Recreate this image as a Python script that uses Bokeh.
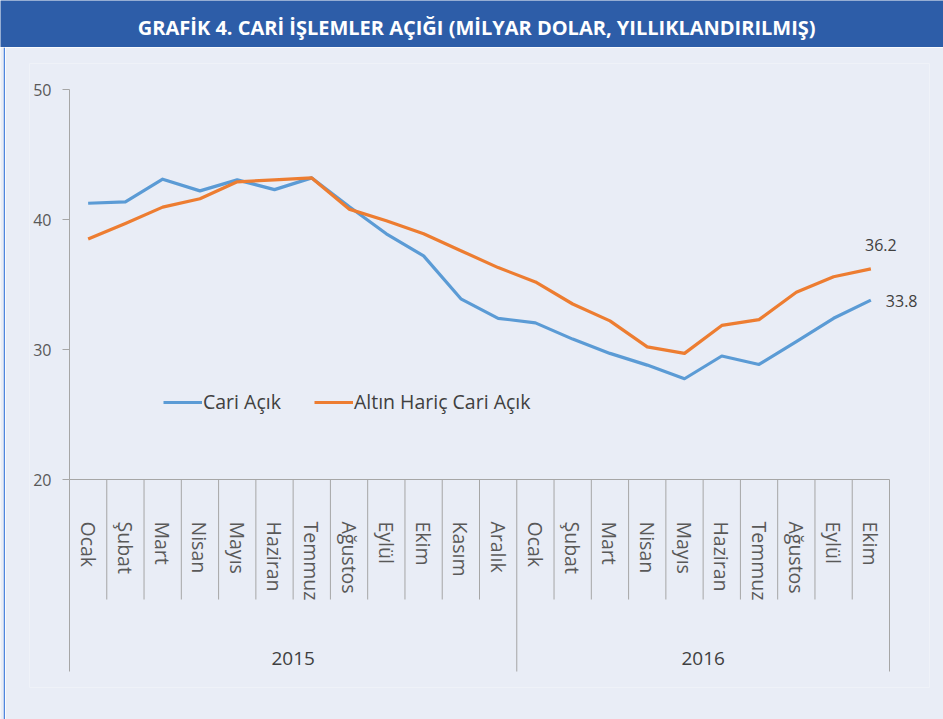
from bokeh.plotting import figure
from bokeh.models import (ColumnDataSource, FactorRange, Range1d, LinearAxis, CategoricalAxis,
                          FixedTicker, Legend, LegendItem)
from bokeh.layouts import column, row
from bokeh.embed import file_html
from bokeh.resources import INLINE
from bokeh.core.properties import value

# ---------------- data ----------------
title_text = "GRAFİK 4. CARİ İŞLEMLER AÇIĞI (MİLYAR DOLAR, YILLIKLANDIRILMIŞ)"
years = ["2015", "2016"]
months_2015 = ["Ocak", "Şubat", "Mart", "Nisan", "Mayıs", "Haziran", "Temmuz",
               "Ağustos", "Eylül", "Ekim", "Kasım", "Aralık"]
months_2016 = ["Ocak", "Şubat", "Mart", "Nisan", "Mayıs", "Haziran", "Temmuz",
               "Ağustos", "Eylül", "Ekim"]
cari_acik = [41.25, 41.35, 43.1, 42.2, 43.05, 42.3, 43.2, 41.0, 38.9, 37.2, 33.9, 32.4,
             32.05, 30.8, 29.7, 28.8, 27.75, 29.5, 28.85, 30.6, 32.4, 33.8]
altin_haric = [38.5, 39.7, 40.95, 41.6, 42.9, 43.05, 43.2, 40.8, 39.9, 38.9, 37.6, 36.3,
               35.2, 33.5, 32.2, 30.2, 29.7, 31.85, 32.3, 34.4, 35.6, 36.2]
series_names = ["Cari Açık", "Altın Hariç Cari Açık"]
y_ticks = [20, 30, 40, 50]

# ---------------- styles ----------------
BG = "#E9EDF6"
TITLE_BG = "#2D5DA8"
EDGE = "#4F86DE"
BLUE = "#5B9BD5"
ORANGE = "#ED7D31"
AX = "#A6A6A6"
TXT = "#404040"
LBL = "#595959"
FONT = "Open Sans"

factors = [(years[0], m) for m in months_2015] + [(years[1], m) for m in months_2016]
n = len(factors)
counts = [len(months_2015), len(months_2016)]

PX_PER_CAT = 820 / 22.0
PX_PER_UNIT = 13.0
FRAME_W = 900
pad_units = (FRAME_W / PX_PER_CAT - n) / 2.0

x_range = FactorRange(factors=factors, factor_padding=0, group_padding=0, subgroup_padding=0,
                      range_padding=pad_units, range_padding_units="absolute")

EDGE_W = 5
p = figure(width=943 - EDGE_W, height=672, x_range=x_range, y_range=Range1d(4, 52),
           output_backend="svg", toolbar_location=None,
           x_axis_location=None, y_axis_location=None,
           min_border_left=29 - EDGE_W, min_border_right=943 - 29 - FRAME_W,
           min_border_top=16, min_border_bottom=32,
           background_fill_color=BG, border_fill_color=BG, outline_line_color=None)
p.frame_align = False
p.xgrid.visible = False
p.ygrid.visible = False

yaxis = LinearAxis(fixed_location=0, bounds=(20, 50),
                   ticker=FixedTicker(ticks=y_ticks, minor_ticks=[]),
                   axis_line_color=AX, major_tick_line_color=AX,
                   major_tick_out=7, major_tick_in=0, minor_tick_line_color=None,
                   major_label_standoff=11, major_label_text_font=FONT,
                   major_label_text_font_size="16px", major_label_text_color=LBL)
p.add_layout(yaxis, "left")

xaxis = CategoricalAxis(fixed_location=20, axis_line_color=None, major_tick_line_color=None,
                        major_tick_out=0, major_tick_in=0, minor_tick_line_color=None,
                        major_label_orientation="vertical", major_label_standoff=42,
                        separator_line_color=None, group_text_color=None,
                        major_label_text_font=FONT, major_label_text_font_size="19.5px",
                        major_label_text_color=LBL)
p.add_layout(xaxis, "below")

# category separators (Excel-style)
year_edges = [0]
for c in counts:
    year_edges.append(year_edges[-1] + c)
month_edges = [i for i in range(n + 1) if i not in year_edges]
y_month_end = 20 - 120 / PX_PER_UNIT
y_year_end = 20 - 192 / PX_PER_UNIT
p.segment(x0=month_edges, y0=[20] * len(month_edges), x1=month_edges,
          y1=[y_month_end] * len(month_edges), line_color=AX, line_width=1)
p.segment(x0=year_edges, y0=[20] * len(year_edges), x1=year_edges,
          y1=[y_year_end] * len(year_edges), line_color=AX, line_width=1)
p.segment(x0=[0], y0=[20], x1=[n], y1=[20], line_color=AX, line_width=1)

# year labels
year_centers = [(year_edges[i] + year_edges[i + 1]) / 2 for i in range(len(years))]
p.text(x=year_centers, y=[20 - 179 / PX_PER_UNIT] * len(years), text=years,
       text_align="center", text_baseline="middle", text_font=value(FONT),
       text_font_size="19px", text_color=TXT)

src = ColumnDataSource(dict(x=factors, cari=cari_acik, altin=altin_haric))
r1 = p.line("x", "cari", source=src, line_color=BLUE, line_width=3.2, line_join="round")
r2 = p.line("x", "altin", source=src, line_color=ORANGE, line_width=3.2, line_join="round")

# end labels
p.text(x=[factors[-1]], y=[altin_haric[-1]], text=[f"{altin_haric[-1]:.1f}"],
       x_offset=10, y_offset=-24, text_align="center", text_baseline="middle",
       text_font=value(FONT), text_font_size="16px", text_color=TXT)
p.text(x=[factors[-1]], y=[cari_acik[-1]], text=[f"{cari_acik[-1]:.1f}"],
       x_offset=15, y_offset=1, text_align="left", text_baseline="middle",
       text_font=value(FONT), text_font_size="16px", text_color=TXT)

legend = Legend(items=[LegendItem(label=series_names[0], renderers=[r1]),
                       LegendItem(label=series_names[1], renderers=[r2])],
                location=(134, 272), orientation="horizontal",
                background_fill_alpha=0, border_line_color=None, padding=0, margin=0,
                glyph_width=39, glyph_height=20, label_height=20, label_standoff=1,
                spacing=33, label_text_font=FONT, label_text_font_size="19.5px",
                label_text_color=TXT)
p.add_layout(legend)

# left edge strip of the panel
e = figure(width=EDGE_W, height=672, x_range=Range1d(0, EDGE_W), y_range=Range1d(0, 1),
           output_backend="svg", toolbar_location=None,
           x_axis_location=None, y_axis_location=None, min_border=0,
           background_fill_color=BG, border_fill_color=BG, outline_line_color=None)
e.frame_align = False
e.xgrid.visible = False
e.ygrid.visible = False
e.segment(x0=[4], y0=[0], x1=[4], y1=[1], line_color=EDGE, line_width=1.5)

# title bar
t = figure(width=943, height=47, x_range=Range1d(0, 1), y_range=Range1d(0, 1),
           output_backend="svg", toolbar_location=None,
           x_axis_location=None, y_axis_location=None, min_border=0,
           background_fill_color=TITLE_BG, border_fill_color=TITLE_BG, outline_line_color=None)
t.frame_align = False
t.xgrid.visible = False
t.ygrid.visible = False
t.text(x=[0.505], y=[0.43], text=[title_text], text_align="center", text_baseline="middle",
       text_color="white", text_font=value(FONT), text_font_style="bold",
       text_font_size="20px")

layout = column(t, row(e, p, spacing=0), spacing=0)
open("out.html", "w").write(file_html(layout, INLINE))
